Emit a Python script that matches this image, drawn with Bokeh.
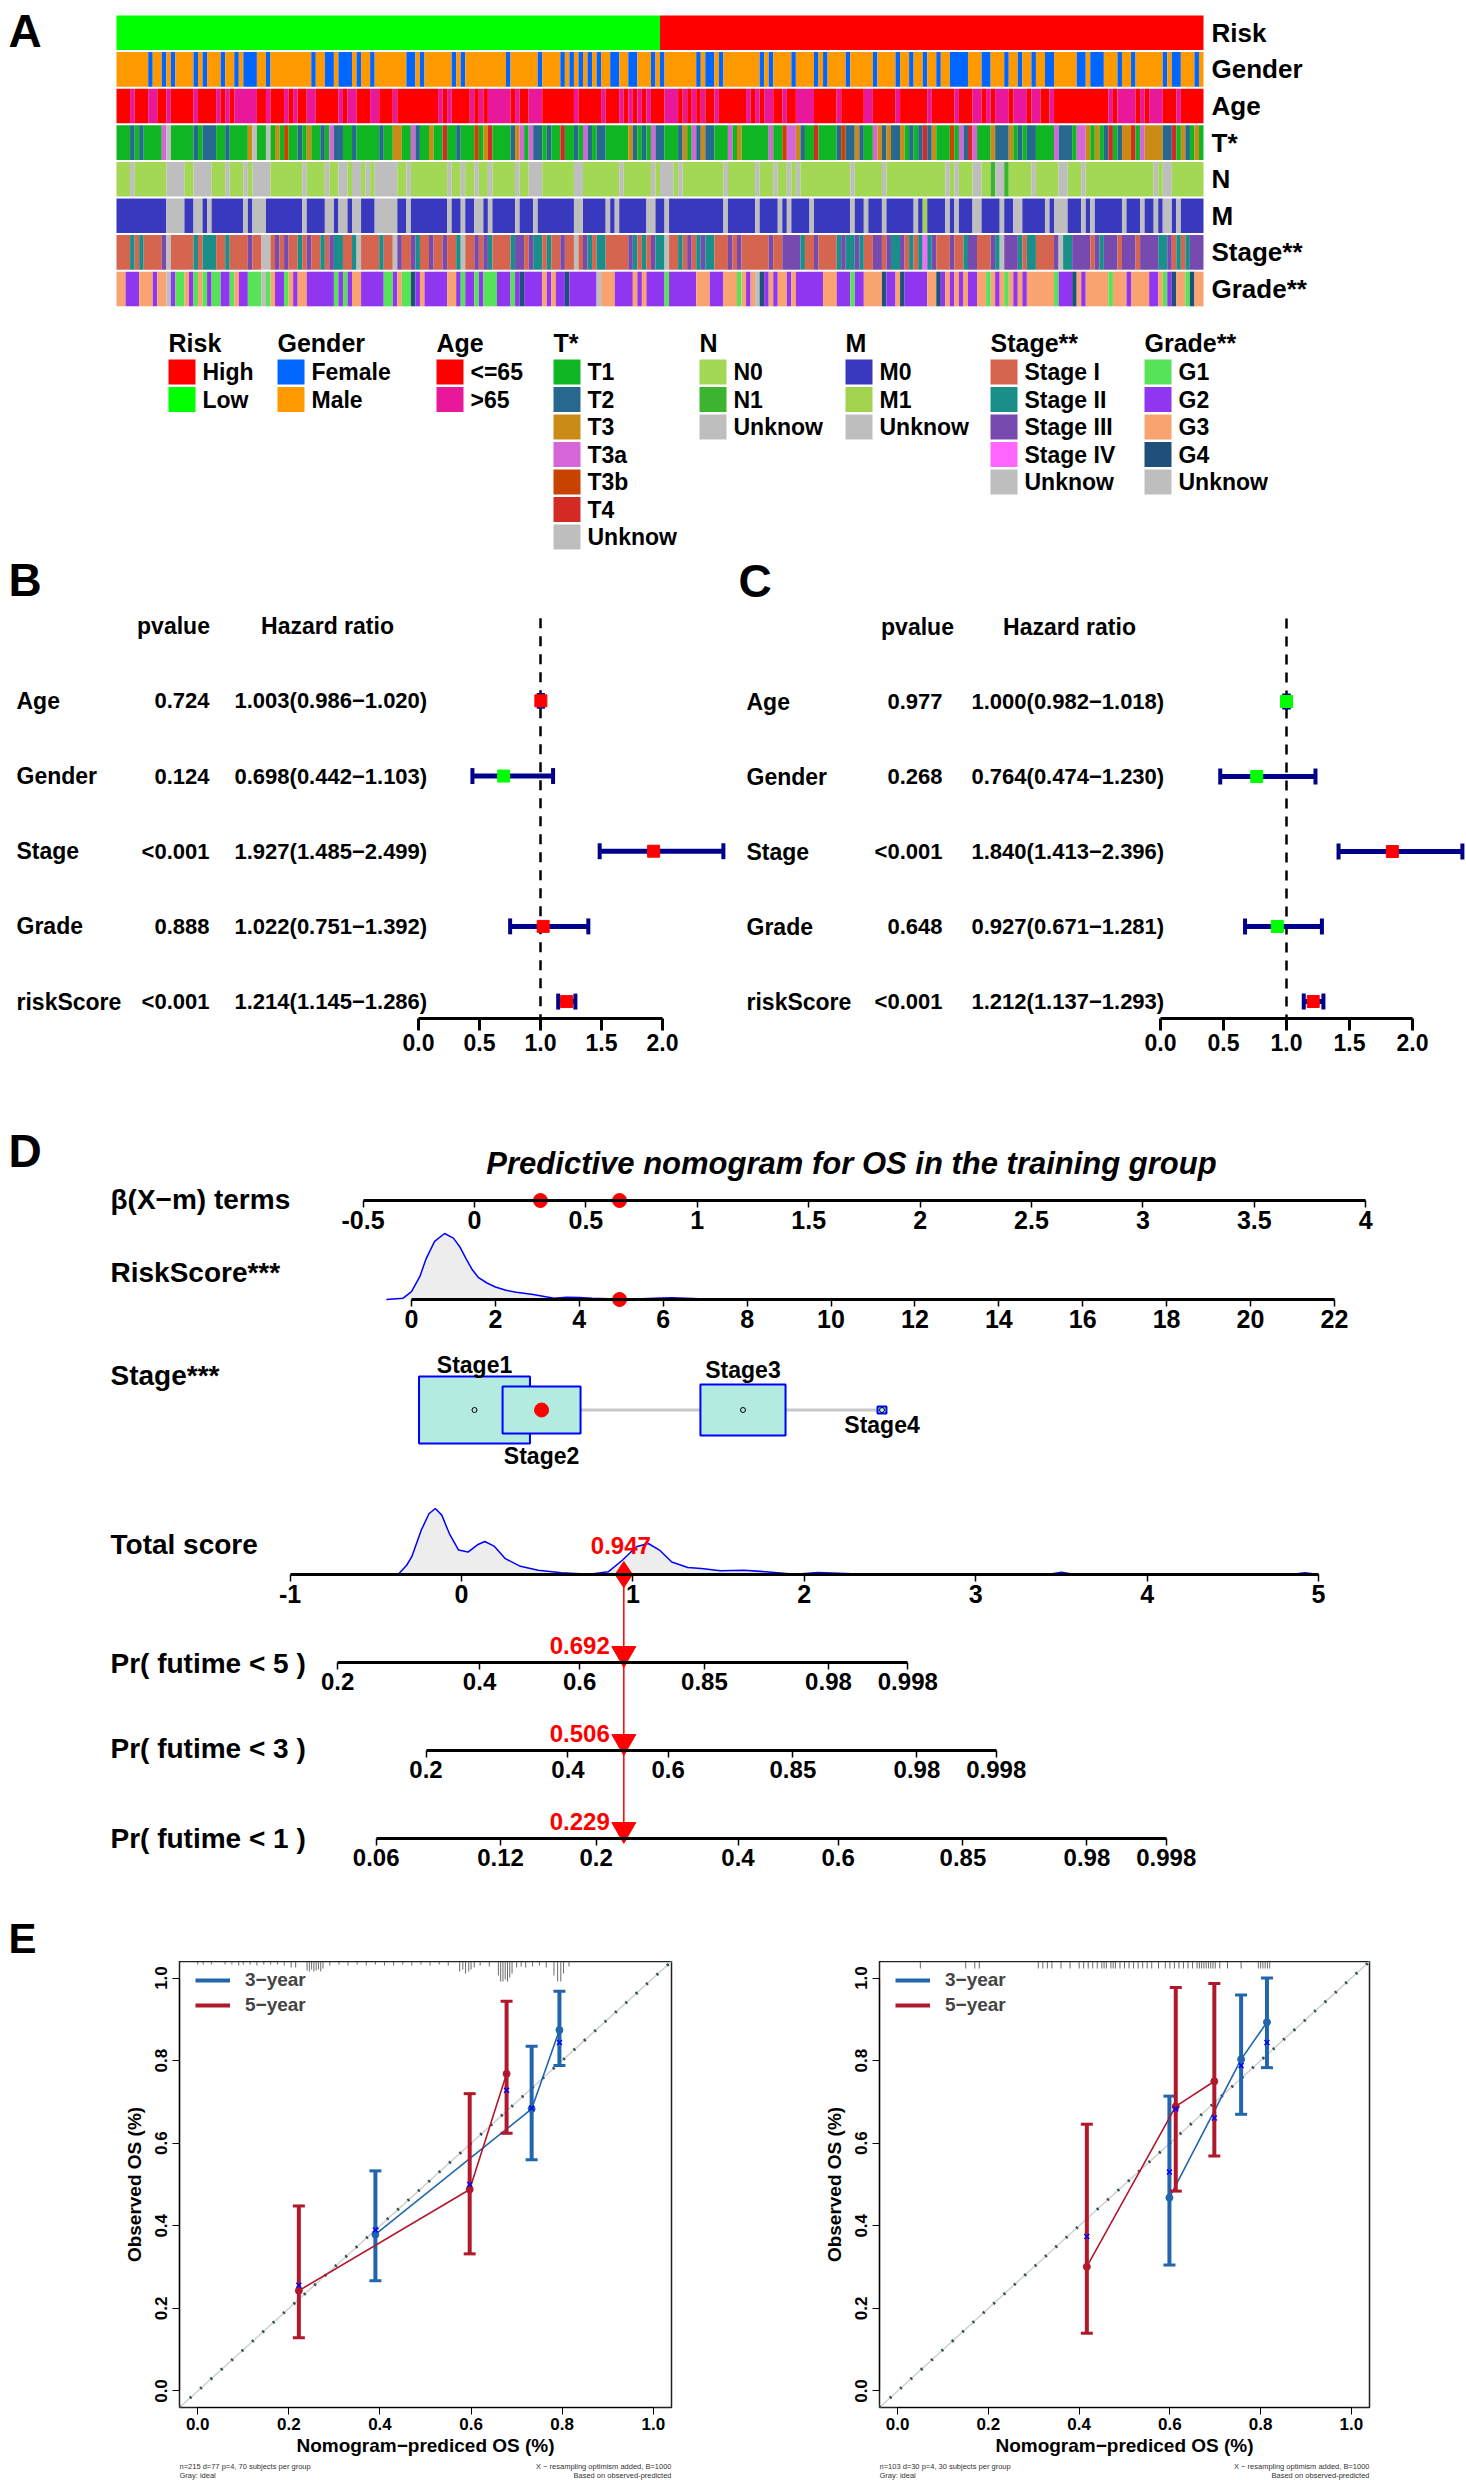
import math
from bokeh.plotting import figure
from bokeh.models import Range1d, LinearAxis, FixedTicker, Legend, LegendItem, PrintfTickFormatter
from bokeh.layouts import column, row
from bokeh.embed import file_html
from bokeh.resources import INLINE
from bokeh.core.properties import value

FONT = "Liberation Sans, Arial, sans-serif"

# =====================================================================
# DATA
# =====================================================================
# ---- Panel A: clinical annotation of 240 samples (run-length coded)
annot_rows = ["Risk", "Gender", "Age", "T*", "N", "M", "Stage**", "Grade**"]
annot_runs = {
    "Risk": "L120 H120",
    "Gender": ("M7 F1 M2 F1 M1 F1 M4 F1 M1 F1 M3 F1 M2 F1 M1 F3 M2 F1 M9 F1 M2 F2 M1 F3 M1 F1 M2 F1 "
               "M7 F2 M1 F1 M6 F1 M1 F1 M9 F1 M6 F1 M4 F1 M1 F1 M1 F1 M1 F1 M1 F1 M2 F2 M2 F2 M3 F1 M1 F1 "
               "M7 F1 M1 F2 M1 F1 M8 F1 M1 F1 M4 F1 M4 F1 M1 F1 M4 F1 M5 F1 M4 F1 M2 F1 M2 F1 M2 F1 "
               "M2 F4 M3 F2 M3 F1 M2 F1 M2 F1 M2 F2 M5 F2 M1 F3 M3 F1 M2 F1 M6 F1 M1 F2 M3 F1 M1"),
    "Age": ("R3 P1 R3 P2 R2 P1 R5 P1 R4 P1 R1 P1 R1 P5 R2 P1 R3 P1 R1 P1 R2 P2 R5 P1 R1 P2 R3 P2 R3 P1 "
            "R9 P1 R1 P1 R4 P1 R1 P1 R1 P5 R1 P1 R2 P3 R7 P1 R5 P1 R3 P1 R1 P1 R1 P1 R1 P1 R3 P3 R1 P1 "
            "R1 P1 R1 P1 R2 P1 R6 P1 R1 P1 R1 P2 R2 P1 R2 P4 R5 P1 R5 P2 R5 P1 R6 P1 R5 P1 R3 P2 R1 P1 "
            "R1 P3 R1 P3 R1 P2 R2 P1 R12 P1 R1 P4 R1 P1 R1 P3 R3 P1 R5"),
    "T*": ("A3 B1 A1 B1 A4 D1 U1 A5 B1 A1 B3 A2 B1 A4 C1 U1 A2 U1 A1 C1 A1 E1 A2 B1 A1 C1 A2 B1 A1 D1 B2 A2 B1 A5 B1 "
           "A2 C2 A2 D1 B1 A2 C1 A2 F1 A2 B1 A3 E1 A1 C1 F1 A4 B1 C1 D1 A1 D1 B2 A1 B1 A2 F1 A2 B1 A1 D1 B1 A1 B2 A5 C1 B1 A1 B1 A1 D1 B2 "
           "A3 B1 C1 A1 D1 B1 C1 B2 A3 D1 A1 C1 A6 D1 A2 E1 D2 C1 B1 A2 F1 A4 B1 E1 B2 C1 B1 A2 D1 C1 B1 C1 B2 C1 A1 B1 A1 B1 F1 B1 C1 "
           "A3 E1 A1 D1 B1 F1 D1 A3 C1 B3 C1 A1 B1 A1 B2 A4 D1 B3 A1 D2 C1 A1 C1 A1 B1 F1 A1 B1 C2 F1 A1 D1 C4 B2 F1 A1 C1 B1 A1 C1 A1"),
    "N": ("A3 U1 A7 U4 A2 U4 A3 U1 A3 U1 A1 U4 A7 U1 A4 U1 A2 U2 A1 U2 A1 U1 A1 U5 A2 U1 A8 U1 A2 U1 A2 U1 "
          "A2 U1 A5 U1 A2 U3 A7 U2 A8 U1 A6 U1 A1 U3 A1 U1 A9 U1 A6 U1 A3 U1 A2 U1 A1 U1 A11 U1 A6 U1 A13 U1 "
          "A1 U1 A3 U2 A2 B1 U2 B1 A5 U1 A5 U2 A3 U1 A15 U1 A1 U2 A7"),
    "M": ("A11 U4 A2 U2 A1 U1 A7 U1 A1 U3 A8 U1 A4 U2 A1 U2 A1 U2 A3 U5 A2 U1 A8 U1 A2 U1 A2 U2 A1 U1 A5 U1 "
          "A3 U1 A8 U2 A5 U1 A1 U1 A6 U2 A2 U1 A12 U1 A6 U1 A4 U1 A1 U1 A4 U1 A8 U1 A2 U1 A3 U1 A6 U1 A1 B1 "
          "A4 U1 A1 U1 A3 U2 A4 U1 A2 U2 A5 U1 A1 U3 A3 U1 A1 U1 A6 U1 A3 U1 A2 U1 A1 U2 A1 U1 A5"),
    "Stage**": ("A3 B1 A1 B1 A4 C1 U1 A5 B1 A1 B3 A2 B1 A4 C1 A2 U2 A1 C1 A1 C1 A2 B1 A1 C1 A2 B1 A1 C1 B2 A2 B1 U1 A4 B1 "
                "A2 U1 C1 A2 C1 B1 A2 C1 A2 C1 A2 B1 U1 A2 C1 A1 C1 B1 A4 B1 C2 A1 C1 B2 A1 B1 A2 C1 A2 U1 A1 C1 B1 A1 B2 "
                "A5 C1 B1 A1 B1 A1 C1 B2 U1 A2 B1 A1 C1 A1 B1 C1 B2 A3 C1 A1 C1 A6 C1 A2 C4 B1 A2 C1 A4 B1 C1 B2 C1 B1 "
                "A2 C2 A1 C1 B2 C1 A1 B1 A1 B1 D1 B1 C1 A3 C1 A2 B1 C2 A3 C1 B1 U1 C3 B1 A1 B2 A4 C1 U1 B2 C4 A1 C1 B1 "
                "C3 A1 C3 A1 C4 B2 C1 A1 B1 A1 B1 C3"),
    "Grade**": ("C2 B3 C3 B1 C2 U1 B1 A2 C1 B1 A1 C1 A1 B1 A2 B2 A1 C1 B2 A3 U1 A1 C1 B2 A1 C1 B1 C2 B6 A1 B1 A1 B1 C2 B5 "
                "A2 B1 C1 A2 D1 B1 C1 B5 C2 B1 A1 B2 A1 B1 A3 B3 A1 B1 D1 B4 C1 B1 C1 B2 D1 B6 U1 C3 B4 C1 B1 C1 B4 "
                "A1 B6 C3 B3 C3 A1 C1 B1 C1 U1 D1 B1 C1 B1 C2 B1 C1 B6 C3 B3 A1 B2 C4 D1 B2 C1 D1 B5 C2 "
                "D1 B1 C1 B1 C1 B1 C1 B2 C2 A1 C1 B1 C1 A1 C1 B1 C1 B1 C6 A1 B3 D1 C1 B1 C5 A1 C3 B1 C4 B2 C1 A1 B1 D1 C2 A1 D1 C2"),
}
annot_codes = {
    "Risk": {"H": "High", "L": "Low"},
    "Gender": {"F": "Female", "M": "Male"},
    "Age": {"R": "<=65", "P": ">65"},
    "T*": {"A": "T1", "B": "T2", "C": "T3", "D": "T3a", "E": "T3b", "F": "T4", "U": "Unknow"},
    "N": {"A": "N0", "B": "N1", "U": "Unknow"},
    "M": {"A": "M0", "B": "M1", "U": "Unknow"},
    "Stage**": {"A": "Stage I", "B": "Stage II", "C": "Stage III", "D": "Stage IV", "U": "Unknow"},
    "Grade**": {"A": "G1", "B": "G2", "C": "G3", "D": "G4", "U": "Unknow"},
}
annot_levels = {
    "Risk": ["High", "Low"],
    "Gender": ["Female", "Male"],
    "Age": ["<=65", ">65"],
    "T*": ["T1", "T2", "T3", "T3a", "T3b", "T4", "Unknow"],
    "N": ["N0", "N1", "Unknow"],
    "M": ["M0", "M1", "Unknow"],
    "Stage**": ["Stage I", "Stage II", "Stage III", "Stage IV", "Unknow"],
    "Grade**": ["G1", "G2", "G3", "G4", "Unknow"],
}
annot_colors = {
    "Risk": ["#FF0000", "#00FF00"],
    "Gender": ["#0066FF", "#FF9900"],
    "Age": ["#FF0000", "#E9179A"],
    "T*": ["#10B524", "#27688F", "#C98B16", "#D665D8", "#C84200", "#D42A26", "#BEBEBE"],
    "N": ["#A2D853", "#3BB530", "#BEBEBE"],
    "M": ["#3939BF", "#A2D34F", "#BEBEBE"],
    "Stage**": ["#D6654F", "#1A8F8A", "#764AAF", "#FF66FF", "#BEBEBE"],
    "Grade**": ["#57E357", "#9036F0", "#F9A470", "#1F4F7B", "#BEBEBE"],
}

# ---- Panels B / C: univariate and multivariate Cox regression
forest_vars = ["Age", "Gender", "Stage", "Grade", "riskScore"]
uni_p = ["0.724", "0.124", "<0.001", "0.888", "<0.001"]
uni_hr = [1.003, 0.698, 1.927, 1.022, 1.214]
uni_lo = [0.986, 0.442, 1.485, 0.751, 1.145]
uni_hi = [1.020, 1.103, 2.499, 1.392, 1.286]
multi_p = ["0.977", "0.268", "<0.001", "0.648", "<0.001"]
multi_hr = [1.000, 0.764, 1.840, 0.927, 1.212]
multi_lo = [0.982, 0.474, 1.413, 0.671, 1.137]
multi_hi = [1.018, 1.230, 2.396, 1.281, 1.293]
forest_ticks = [0.0, 0.5, 1.0, 1.5, 2.0]

# ---- Panel D: nomogram
nomo_title = "Predictive nomogram for OS in the training group"
beta_ticks = [-0.5, 0, 0.5, 1, 1.5, 2, 2.5, 3, 3.5, 4]
beta_labels = ["-0.5", "0", "0.5", "1", "1.5", "2", "2.5", "3", "3.5", "4"]
risk_ticks = [0, 2, 4, 6, 8, 10, 12, 14, 16, 18, 20, 22]
total_ticks = [-1, 0, 1, 2, 3, 4, 5]
riskscore_dens_x = [-0.6, -0.2, 0.0, 0.2, 0.35, 0.55, 0.79, 1.0, 1.15, 1.3, 1.45, 1.6, 1.8, 2.0, 2.25,
                    2.5, 2.9, 3.2, 3.4, 3.7, 4.0, 4.3, 4.7, 5.2, 5.8, 6.2, 6.7, 7.2, 8.0, 10.0, 10.5,
                    11.0, 11.5, 12.0, 13.2, 13.6, 14.1, 15.0, 19.8, 20.3, 20.9, 21.3, 21.7]
riskscore_dens_y = [0.0, 0.02, 0.12, 0.35, 0.62, 0.88, 1.0, 0.93, 0.8, 0.62, 0.45, 0.33, 0.25, 0.19, 0.14,
                    0.11, 0.075, 0.04, 0.02, 0.035, 0.03, 0.02, 0.01, 0.005, 0.02, 0.025, 0.015, 0.005,
                    0.003, 0.003, 0.01, 0.012, 0.005, 0.002, 0.003, 0.012, 0.004, 0.002, 0.003, 0.012,
                    0.008, 0.012, 0.0]
stage_levels = ["Stage1", "Stage2", "Stage3", "Stage4"]
stage_beta = [0.0, 0.301, 1.205, 1.829]
stage_box_w = [0.498, 0.350, 0.382, 0.040]   # box width, beta units
stage_box_h = [67, 47, 51, 7]                # box height, px
total_dens_x = [-0.37, -0.32, -0.29, -0.235, -0.19, -0.153, -0.115, -0.071, -0.017, 0.038, 0.093, 0.136,
                0.19, 0.256, 0.338, 0.447, 0.583, 0.747, 0.856, 0.94, 1.02, 1.09, 1.155, 1.227, 1.32,
                1.4, 1.51, 1.647, 1.81, 1.947, 2.08, 2.275, 2.44, 3.42, 3.5, 3.58, 4.84, 4.92, 5.0]
total_dens_y = [0.0, 0.14, 0.27, 0.67, 0.92, 1.0, 0.9, 0.62, 0.37, 0.34, 0.45, 0.5, 0.43, 0.24, 0.13,
                0.066, 0.025, 0.005, 0.04, 0.22, 0.42, 0.47, 0.37, 0.19, 0.106, 0.09, 0.056, 0.066,
                0.035, 0.005, 0.03, 0.01, 0.0, 0.0, 0.035, 0.0, 0.0, 0.025, 0.0]
patient_stage = "Stage2"
patient_riskscore = 4.96
patient_beta = {"Stage": 0.296, "RiskScore": 0.651}
patient_total = 0.947
pr_titles = ["Pr( futime < 5 )", "Pr( futime < 3 )", "Pr( futime < 1 )"]
pr_ticks = [[0.2, 0.4, 0.6, 0.85, 0.98, 0.998],
            [0.2, 0.4, 0.6, 0.85, 0.98, 0.998],
            [0.06, 0.12, 0.2, 0.4, 0.6, 0.85, 0.98, 0.998]]
pr_loglog_base = [-0.777, -1.293, -2.285]      # log(-log S0(t)), t = 5, 3, 1 years
pr_patient = [0.692, 0.506, 0.229]

# ---- Panel E: calibration curves (training left, validation right)
cal = {
    "train": {
        "3": dict(x=[0.390, 0.733, 0.794], y=[0.379, 0.683, 0.874], lo=[0.267, 0.560, 0.788],
                  hi=[0.533, 0.835, 0.968], corr=[0.390, 0.685, 0.844]),
        "5": dict(x=[0.222, 0.597, 0.678], y=[0.243, 0.488, 0.768], lo=[0.129, 0.332, 0.624],
                  hi=[0.448, 0.720, 0.944], corr=[0.256, 0.500, 0.728]),
        "rug_x": [0.0, 0.012, 0.03, 0.06, 0.075, 0.09, 0.1, 0.115, 0.13, 0.145, 0.16, 0.175, 0.19, 0.205,
                  0.215, 0.24, 0.245, 0.25, 0.255, 0.26, 0.265, 0.27, 0.275, 0.29, 0.31, 0.33, 0.35, 0.37,
                  0.39, 0.41, 0.43, 0.45, 0.47, 0.49, 0.51, 0.53, 0.55, 0.575, 0.582, 0.588, 0.595, 0.6,
                  0.607, 0.62, 0.64, 0.66, 0.665, 0.67, 0.675, 0.68, 0.685, 0.69, 0.7, 0.71, 0.72, 0.735,
                  0.75, 0.765, 0.782, 0.79, 0.797, 0.803, 0.815],
        "rug_len": [3, 3, 3, 3, 3, 4, 3, 3, 4, 3, 3, 3, 4, 6, 6, 9, 10, 8, 10, 9, 8, 10, 7, 4, 3, 4, 3,
                    4, 3, 4, 4, 3, 4, 3, 4, 3, 4, 10, 8, 12, 10, 8, 6, 4, 5, 14, 20, 20, 18, 20, 16, 12,
                    6, 5, 6, 5, 4, 6, 14, 20, 20, 12, 5],
        "note": "n=215 d=77 p=4, 70 subjects per group",
    },
    "valid": {
        "3": dict(x=[0.599, 0.757, 0.814], y=[0.468, 0.803, 0.893], lo=[0.305, 0.670, 0.783],
                  hi=[0.714, 0.959, 1.000], corr=[0.530, 0.788, 0.844]),
        "5": dict(x=[0.417, 0.613, 0.698], y=[0.301, 0.689, 0.750], lo=[0.140, 0.484, 0.569],
                  hi=[0.646, 0.977, 0.987], corr=[0.374, 0.683, 0.661]),
        "rug_x": [0.05, 0.15, 0.17, 0.18, 0.31, 0.32, 0.33, 0.34, 0.36, 0.38, 0.4, 0.41, 0.42, 0.43,
                  0.44, 0.45, 0.455, 0.46, 0.47, 0.475, 0.48, 0.49, 0.5, 0.51, 0.52, 0.53, 0.54, 0.55,
                  0.56, 0.575, 0.59, 0.6, 0.61, 0.62, 0.63, 0.64, 0.65, 0.66, 0.665, 0.67, 0.675, 0.68,
                  0.685, 0.69, 0.695, 0.7, 0.71, 0.727, 0.757, 0.795, 0.8, 0.805, 0.81, 0.815, 0.82],
        "rug_len": [7] * 55,
        "note": "n=103 d=30 p=4, 30 subjects per group",
    },
}
cal_ticks = [0.0, 0.2, 0.4, 0.6, 0.8, 1.0]
cal_notes_right = ["X \u2212 resampling optimism added, B=1000", "Based on observed-predicted"]

# =====================================================================
# HELPERS  (page coordinates: the layout starts at the window's top-left)
# =====================================================================
PAGE_W = 1466
HALF_W = 733


def decode(runs, codes):
    out = []
    for tok in runs.split():
        out.extend([codes[tok[0]]] * int(tok[1:]))
    return out


def txt(p, x, y, s, size, color="black", align="left", baseline="middle",
        style="bold", **kw):
    xs = x if isinstance(x, list) else [x]
    ys = y if isinstance(y, list) else [y]
    ss = s if isinstance(s, list) else [s]
    p.text(x=xs, y=ys, text=ss, text_font=value(FONT), text_font_size=size,
           text_font_style=style, text_color=color, text_align=align,
           text_baseline=baseline, **kw)


def clean(p):
    p.outline_line_color = None
    p.grid.visible = False
    p.background_fill_color = "white"
    p.border_fill_color = "white"


# =====================================================================
# PANEL A
# =====================================================================
N = 240
A_H = 552
HM_L, HM_R = 116, 1203
ROW_TOP, ROW_PITCH = 14, 36.6
col_w = (HM_R - HM_L) / N


def ax_(px):
    return (px - HM_L) / col_w


def ay_(py):
    return (py - ROW_TOP - ROW_PITCH / 2) / ROW_PITCH


pA = figure(width=PAGE_W, height=A_H, x_range=Range1d(ax_(0), ax_(PAGE_W)),
            y_range=Range1d(ay_(A_H), ay_(0)), min_border=0,
            x_axis_location=None, y_axis_location=None,
            output_backend="svg", toolbar_location=None)
clean(pA)

for r, name in enumerate(annot_rows):
    vals = decode(annot_runs[name], annot_codes[name])
    lev = annot_levels[name]
    lefts, rights, cols = [], [], []
    start = 0
    for i in range(1, len(vals) + 1):
        if i == len(vals) or vals[i] != vals[start]:
            lefts.append(start)
            rights.append(i)
            cols.append(annot_colors[name][lev.index(vals[start])])
            start = i
    n = len(lefts)
    pA.quad(left=lefts, right=rights, top=[r - 0.473] * n, bottom=[r + 0.473] * n,
            fill_color=cols, line_color=None)

txt(pA, [ax_(1211)] * len(annot_rows), list(range(len(annot_rows))), annot_rows, "26px")
txt(pA, ax_(8), ay_(30), "A", "46px")

LEG_GX = [168, 277, 436, 553, 699, 845, 990, 1144]
LEG_TITLE_PY, LEG_ITEM0_PY, LEG_PITCH = 342, 371.5, 27.5
for g, name in enumerate(annot_rows):
    gx = LEG_GX[g]
    txt(pA, ax_(gx), ay_(LEG_TITLE_PY), name, "25px")
    lev = annot_levels[name]
    ys = [ay_(LEG_ITEM0_PY + k * LEG_PITCH) for k in range(len(lev))]
    pA.rect(x=[ax_(gx + 13.5)] * len(lev), y=ys, width=27, height=25,
            width_units="screen", height_units="screen",
            fill_color=annot_colors[name], line_color=None)
    txt(pA, [ax_(gx + 34)] * len(lev), ys, lev, "23px")


# =====================================================================
# PANELS B, C
# =====================================================================
BC_TOP, BC_BOT = A_H, 1090


def forest_panel(letter, pstr, hr, lo, hi, geo):
    x0, ppu, left = geo["x0"], geo["ppu"], geo["left"]
    age_py, pitch, axis_py = geo["age_py"], geo["pitch"], geo["axis_py"]

    def fx(px):
        return (px - x0) / ppu

    def fy(py):
        return 1 + (py - age_py) / pitch

    p = figure(width=HALF_W, height=BC_BOT - BC_TOP, x_range=Range1d(fx(left), fx(left + HALF_W)),
               y_range=Range1d(fy(axis_py), fy(BC_TOP)), min_border=0,
               min_border_bottom=BC_BOT - axis_py, x_axis_location="below",
               y_axis_location=None, output_backend="svg", toolbar_location=None)
    clean(p)
    ax = p.xaxis[0]
    ax.ticker = FixedTicker(ticks=forest_ticks)
    ax.formatter = PrintfTickFormatter(format="%.1f")
    ax.bounds = (forest_ticks[0], forest_ticks[-1])
    ax.axis_line_width = 3
    ax.major_tick_line_width = 3
    ax.major_tick_out = 12
    ax.major_tick_in = 0
    ax.minor_tick_out = 0
    ax.minor_tick_in = 0
    ax.major_label_standoff = 3
    ax.major_label_text_font = FONT
    ax.major_label_text_font_size = "23px"
    ax.major_label_text_font_style = "bold"
    ax.major_label_text_color = "black"

    rows_y = [i + 1 for i in range(len(forest_vars))]
    p.segment(x0=[1.0], y0=[fy(618)], x1=[1.0], y1=[fy(axis_py)], line_color="black",
              line_width=2.5, line_dash="10 8")
    p.segment(x0=lo, y0=rows_y, x1=hi, y1=rows_y, line_color="#00008B", line_width=5)
    cap = 8 / pitch
    for ends in (lo, hi):
        p.segment(x0=ends, y0=[y - cap for y in rows_y], x1=ends, y1=[y + cap for y in rows_y],
                  line_color="#00008B", line_width=4)
    box_col = ["#FF0000" if h > 1 else "#00FF00" for h in hr]
    p.scatter(x=hr, y=rows_y, marker="square", size=12, fill_color=box_col, line_color=box_col)

    hr_str = [f"{h:.3f}({a:.3f}\u2212{b:.3f})" for h, a, b in zip(hr, lo, hi)]
    txt(p, [fx(geo["lab"])] * 5, rows_y, forest_vars, "23px")
    txt(p, [fx(geo["pr"])] * 5, rows_y, pstr, "22px", align="right")
    txt(p, [fx(geo["hrx"])] * 5, rows_y, hr_str, "22px")
    txt(p, fx(geo["head_p"]), fy(626), "pvalue", "23px", align="center")
    txt(p, fx(geo["head_hr"]), fy(626), "Hazard ratio", "23px", align="center")
    txt(p, fx(geo["letter"]), fy(580), letter, "46px")
    return p


pB = forest_panel("B", uni_p, uni_hr, uni_lo, uni_hi,
                  dict(x0=418, ppu=122, left=0, age_py=701, pitch=75.5, axis_py=1020,
                       lab=16, pr=209, hrx=234, head_p=173, head_hr=327, letter=8))
pC = forest_panel("C", multi_p, multi_hr, multi_lo, multi_hi,
                  dict(x0=1160, ppu=126, left=HALF_W, age_py=701, pitch=75, axis_py=1018,
                       lab=746, pr=942, hrx=971, head_p=917, head_hr=1069, letter=738))

# =====================================================================
# PANEL D : nomogram (its figure also carries the panel letter "E")
# =====================================================================
D_TOP, D_BOT = 1090, 1961
X0_T, PPU_T = 461, 171.4
X0_B, PPU_B = 474, 222.8
X0_R, PPU_R = 411, 41.95


def tx(px):
    return (px - X0_T) / PPU_T


def bx(px):
    return (px - X0_B) / PPU_B


def rx(px):
    return (px - X0_R) / PPU_R


pD = figure(width=PAGE_W, height=D_BOT - D_TOP, x_range=Range1d(tx(0), tx(PAGE_W)),
            y_range=Range1d(D_BOT, D_TOP), min_border=0,
            x_axis_location=None, y_axis_location=None,
            output_backend="svg", toolbar_location=None)
pD.extra_x_ranges = {"beta": Range1d(bx(0), bx(PAGE_W)), "risk": Range1d(rx(0), rx(PAGE_W))}
clean(pD)


def nomo_axis(range_name, y, ticks, labels, size="25px"):
    ax = LinearAxis(x_range_name=range_name, fixed_location=y,
                    ticker=FixedTicker(ticks=ticks), bounds=(min(ticks), max(ticks)),
                    major_label_overrides={float(t): l for t, l in zip(ticks, labels)})
    ax.axis_line_width = 3
    ax.axis_line_color = "black"
    ax.major_tick_line_width = 1.5
    ax.major_tick_out = 7
    ax.major_tick_in = 0
    ax.minor_tick_out = 0
    ax.minor_tick_in = 0
    ax.major_label_standoff = 3
    ax.major_label_text_font = FONT
    ax.major_label_text_font_size = size
    ax.major_label_text_font_style = "bold"
    ax.major_label_text_color = "black"
    pD.add_layout(ax, "below")


BETA_Y, RISK_Y, STAGE_Y, TOTAL_Y = 1200, 1299, 1409.5, 1574
PR_Y = [1662, 1750, 1838]
DENS_H = 66

# densities
rs_top = [RISK_Y - DENS_H * v for v in riskscore_dens_y]
pD.varea(x=riskscore_dens_x, y1=[RISK_Y] * len(rs_top), y2=rs_top, x_range_name="risk",
         fill_color="#EDEDED")
pD.line(x=riskscore_dens_x, y=rs_top, x_range_name="risk", line_color="#0000FF", line_width=1.5)
ts_top = [TOTAL_Y - DENS_H * v for v in total_dens_y]
pD.varea(x=total_dens_x, y1=[TOTAL_Y] * len(ts_top), y2=ts_top, fill_color="#EDEDED")
pD.line(x=total_dens_x, y=ts_top, line_color="#0000FF", line_width=1.5)

nomo_axis("beta", BETA_Y, beta_ticks, beta_labels)
nomo_axis("risk", RISK_Y, risk_ticks, [str(t) for t in risk_ticks])
nomo_axis("default", TOTAL_Y, total_ticks, [str(t) for t in total_ticks])
for k, ticks in enumerate(pr_ticks):
    pos = [math.log(-math.log(1 - q)) - pr_loglog_base[k] for q in ticks]
    nomo_axis("default", PR_Y[k], pos, [str(q) for q in ticks], size="24px")

# stage boxes
pD.segment(x0=[min(stage_beta)], y0=[STAGE_Y], x1=[max(stage_beta)], y1=[STAGE_Y],
           x_range_name="beta", line_color="#C8C8C8", line_width=3)
pD.rect(x=stage_beta, y=[STAGE_Y] * 4, width=stage_box_w, height=stage_box_h,
        x_range_name="beta", fill_color="#B3EBE0", line_color="#0000FF", line_width=2)
others = [b for s, b in zip(stage_levels, stage_beta) if s != patient_stage]
pD.scatter(x=others, y=[STAGE_Y] * len(others), x_range_name="beta", marker="circle",
           size=5, fill_color=None, line_color="black", line_width=1)
STAGE_LABEL_DY = [-45, 46, -40, 15]
for s, b, dy in zip(stage_levels, stage_beta, STAGE_LABEL_DY):
    txt(pD, b, STAGE_Y + dy, s, "23px", align="center", x_range_name="beta")

# patient points
pD.scatter(x=[patient_beta["Stage"], patient_beta["RiskScore"]], y=[BETA_Y, BETA_Y],
           x_range_name="beta", marker="circle", size=14, fill_color="#FF0000", line_color="#FF0000")
pD.scatter(x=[patient_riskscore], y=[RISK_Y], x_range_name="risk", marker="circle", size=14,
           fill_color="#FF0000", line_color="#FF0000")
pD.scatter(x=[stage_beta[stage_levels.index(patient_stage)]], y=[STAGE_Y], x_range_name="beta",
           marker="circle", size=14, fill_color="#FF0000", line_color="#FF0000")

pD.segment(x0=[patient_total], y0=[TOTAL_Y], x1=[patient_total], y1=[PR_Y[-1]],
           line_color="#FF0000", line_width=1.5)
pD.scatter(x=[patient_total], y=[TOTAL_Y], marker="diamond", size=26, fill_color="#FF0000",
           line_color="#FF0000")
pD.scatter(x=[patient_total] * 3, y=[y - 9 for y in PR_Y], marker="inverted_triangle", size=24,
           fill_color="#FF0000", line_color="#FF0000")
txt(pD, patient_total - 3 / PPU_T, TOTAL_Y - 29, f"{patient_total:.3f}", "24px", color="#FF0000",
    align="center")
for k in range(3):
    txt(pD, patient_total - 14 / PPU_T, PR_Y[k] - 17, f"{pr_patient[k]:.3f}", "24px",
        color="#FF0000", align="right")

# row labels & title
row_labels = ["\u03b2(X\u2212m) terms", "RiskScore***", "Stage***", "Total score"] + pr_titles
row_label_y = [1199, 1272, 1375, 1544, 1663, 1748, 1838]
txt(pD, [tx(110)] * len(row_labels), row_label_y, row_labels, "28px")
txt(pD, tx(851), 1163, nomo_title, "31px", align="center", style="bold italic")
txt(pD, tx(8), 1150, "D", "46px")
txt(pD, tx(8), 1938, "E", "42px")


# =====================================================================
# PANEL E : calibration
# =====================================================================
E_TOP, E_FRAME_BOT, NOTE_TOP, PAGE_BOT = D_BOT, 2407, 2458, 2480


def calib_panel(key, fig_left, frame_left, frame_right):
    d = cal[key]
    b_left = frame_left - fig_left
    b_right = fig_left + HALF_W - frame_right
    p = figure(width=HALF_W, height=NOTE_TOP - E_TOP, x_range=Range1d(-0.04, 1.04),
               y_range=Range1d(-0.04, 1.04),
               min_border_left=b_left, min_border_right=b_right,
               min_border_top=0, min_border_bottom=NOTE_TOP - E_FRAME_BOT,
               output_backend="svg", toolbar_location=None)
    p.grid.visible = False
    p.outline_line_color = "#222222"
    p.outline_line_width = 1.5
    for ax in (p.xaxis[0], p.yaxis[0]):
        ax.ticker = FixedTicker(ticks=cal_ticks)
        ax.formatter = PrintfTickFormatter(format="%.1f")
        ax.bounds = (0, 1)
        ax.axis_line_width = 1.2
        ax.major_tick_out = 7
        ax.major_tick_in = 0
        ax.minor_tick_out = 0
        ax.minor_tick_in = 0
        ax.major_label_text_font = FONT
        ax.major_label_text_font_size = "17px"
        ax.major_label_text_font_style = "bold"
        ax.major_label_text_color = "black"
        ax.axis_label_text_font = FONT
        ax.axis_label_text_font_size = "19px"
        ax.axis_label_text_font_style = "bold"
        ax.axis_label_text_color = "black"
    p.xaxis[0].axis_label = "Nomogram\u2212prediced OS (%)"
    p.xaxis[0].major_label_standoff = 3
    p.xaxis[0].axis_label_standoff = 2
    p.yaxis[0].axis_label = "Observed OS (%)"
    p.yaxis[0].major_label_orientation = "vertical"
    p.yaxis[0].major_label_standoff = 5
    p.yaxis[0].axis_label_standoff = 8

    # ideal line
    p.line(x=[-0.04, 1.04], y=[-0.04, 1.04], line_color="#D0D0D0", line_width=1.5)
    p.line(x=[-0.04, 1.04], y=[-0.04, 1.04], line_color="#2F4F4F", line_width=3,
           line_dash="2 12")
    # rug
    ppu_y = (E_FRAME_BOT - E_TOP) / 1.08
    p.segment(x0=d["rug_x"], y0=[1.04] * len(d["rug_x"]), x1=d["rug_x"],
              y1=[1.04 - L / ppu_y for L in d["rug_len"]], line_color="#444444",
              line_width=1, line_alpha=0.8)
    items = []
    for yr, col in (("3", "#2166AC"), ("5", "#B2182B")):
        s = d[yr]
        p.line(x=s["x"], y=s["y"], line_color=col, line_width=1.6)
        bars = p.segment(x0=s["x"], y0=s["lo"], x1=s["x"], y1=s["hi"], line_color=col, line_width=4)
        p.scatter(x=s["x"] * 2, y=s["lo"] + s["hi"], marker="dash", size=12, line_color=col,
                  line_width=3)
        p.scatter(x=s["x"], y=s["y"], marker="circle", size=7, fill_color=col, line_color=col)
        p.scatter(x=s["x"], y=s["corr"], marker="x", size=7, line_color="#0000FF", line_width=1.5)
        items.append(LegendItem(label=f"{yr}\u2212year", renderers=[bars]))
    leg = Legend(items=items, location=(16, 391), padding=0, margin=0, spacing=3,
                 glyph_width=35, glyph_height=20, label_height=20, label_standoff=15,
                 border_line_color=None, background_fill_alpha=0,
                 label_text_font=FONT, label_text_font_size="19px",
                 label_text_font_style="bold")
    p.add_layout(leg)

    # footnote strip under the plot (same frame borders as the plot above)
    pn = figure(width=HALF_W, height=PAGE_BOT - NOTE_TOP, x_range=Range1d(-0.04, 1.04),
                y_range=Range1d(PAGE_BOT, NOTE_TOP), min_border=0, min_border_left=b_left,
                min_border_right=b_right, x_axis_location=None,
                y_axis_location=None, output_backend="svg", toolbar_location=None)
    clean(pn)
    txt(pn, [-0.04, -0.04], [2466, 2475], [d["note"], "Gray: ideal"], "7.5px",
        color="#333333", style="normal")
    txt(pn, [1.04, 1.04], [2466, 2475], cal_notes_right, "7.5px",
        color="#333333", style="normal", align="right")
    return column(p, pn)


pE1 = calib_panel("train", 0, 179, 671)
pE2 = calib_panel("valid", HALF_W, 879, 1369)

layout = column(pA, row(pB, pC), pD, row(pE1, pE2))
open("out.html", "w").write(file_html(layout, INLINE))
